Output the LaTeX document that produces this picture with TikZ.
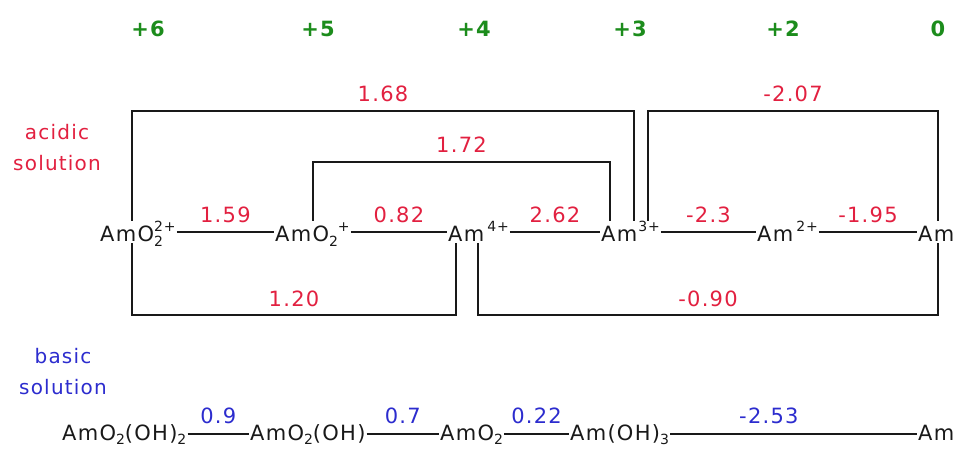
\documentclass[tikz,border=0pt]{standalone}
\usepackage{fontspec}
\setmainfont{DejaVu Sans}[LetterSpace=6]
\usetikzlibrary{positioning}
\definecolor{ink}{RGB}{25,25,25}
\definecolor{acidred}{RGB}{226,32,64}
\definecolor{baseblue}{RGB}{44,44,206}
\definecolor{oxgreen}{RGB}{28,140,28}
\newcommand{\supx}[1]{\raisebox{.48em}{\fontsize{14}{14}\selectfont#1}}
\newcommand{\subx}[1]{\raisebox{-.22em}{\fontsize{14}{14}\selectfont#1}}

\begin{document}
\begin{tikzpicture}[x=1pt,y=-1pt,
  species/.style={font=\fontsize{21}{24}\selectfont,text=ink,inner sep=1pt,
    text height=20pt,text depth=0pt,anchor=base west},
  bspecies/.style={species,text height=12pt},
  link/.style={draw=ink,line width=1.6pt},
  pot/.style={font=\fontsize{21}{24}\selectfont,text=acidred,inner sep=1pt,above=7pt},
  bpot/.style={pot,text=baseblue,above=8pt},
  ox/.style={font=\fontsize{21}{24}\selectfont\bfseries,text=oxgreen,anchor=base},
  medium/.style={font=\fontsize{20}{31}\selectfont,align=center}]
  \useasboundingbox (0,0) rectangle (956,449);

  \foreach \val/\px in {+6/148,+5/318,+4/474,+3/630,+2/783,0/938}
    \node[ox] (ox\px) at (\px,37) {\val};

  \node[medium,text=acidred] (acidic) at (57,148) {acidic\\solution};
  \node[medium,text=baseblue] (basic) at (63,372) {basic\\solution};

  \node[species] (a6) at (99,242) {AmO\rlap{\subx{2}}\supx{2+}};
  \node[species] (a5) at (274,242) {AmO\subx{2}\supx{+}};
  \node[species] (a4) at (447,242) {Am\hspace{3pt}\supx{4+}};
  \node[species] (a3) at (600,242) {Am\hspace{1pt}\supx{3+}};
  \node[species] (a2) at (756,242) {Am\hspace{3pt}\supx{2+}};
  \node[species] (a0) at (917,242) {Am};

  \draw[link] (a6) -- node[pot]{1.59} (a5);
  \draw[link] (a5) -- node[pot]{0.82} (a4);
  \draw[link] (a4) -- node[pot]{2.62} (a3);
  \draw[link] (a3) -- node[pot]{-2.3} (a2);
  \draw[link] (a2) -- node[pot]{-1.95} (a0);

  \draw[link] ([xshift=33pt]a6.north west) -- ++(0,-110)
    -| node[pot,pos=.25]{1.68} ([xshift=34pt]a3.north west);
  \draw[link] ([xshift=39pt]a5.north west) -- ++(0,-59)
    -| node[pot,pos=.25]{1.72} ([xshift=10pt]a3.north west);
  \draw[link] ([xshift=48pt]a3.north west) -- ++(0,-110)
    -| node[pot,pos=.25]{-2.07} ([xshift=21pt]a0.north west);
  \draw[link] ([xshift=33pt]a6.south west) -- ++(0,72)
    -| node[pot,pos=.25]{1.20} ([xshift=9pt]a4.south west);
  \draw[link] ([xshift=31pt]a4.south west) -- ++(0,72)
    -| node[pot,pos=.25]{-0.90} ([xshift=21pt]a0.south west);

  \node[bspecies] (b6) at (61,440) {AmO\subx{2}(OH)\subx{2}};
  \node[bspecies] (b5) at (249,440) {AmO\subx{2}(OH)};
  \node[bspecies] (b4) at (439,440) {AmO\subx{2}};
  \node[bspecies] (b3) at (569,440) {Am(OH)\subx{3}};
  \node[bspecies] (b0) at (917,440) {Am};

  \draw[link] (b6) -- node[bpot]{0.9} (b5);
  \draw[link] (b5) -- node[bpot]{0.7} (b4);
  \draw[link] (b4) -- node[bpot]{0.22} (b3);
  \draw[link] (b3) -- node[bpot,pos=.4]{-2.53} (b0);
\end{tikzpicture}
\end{document}
